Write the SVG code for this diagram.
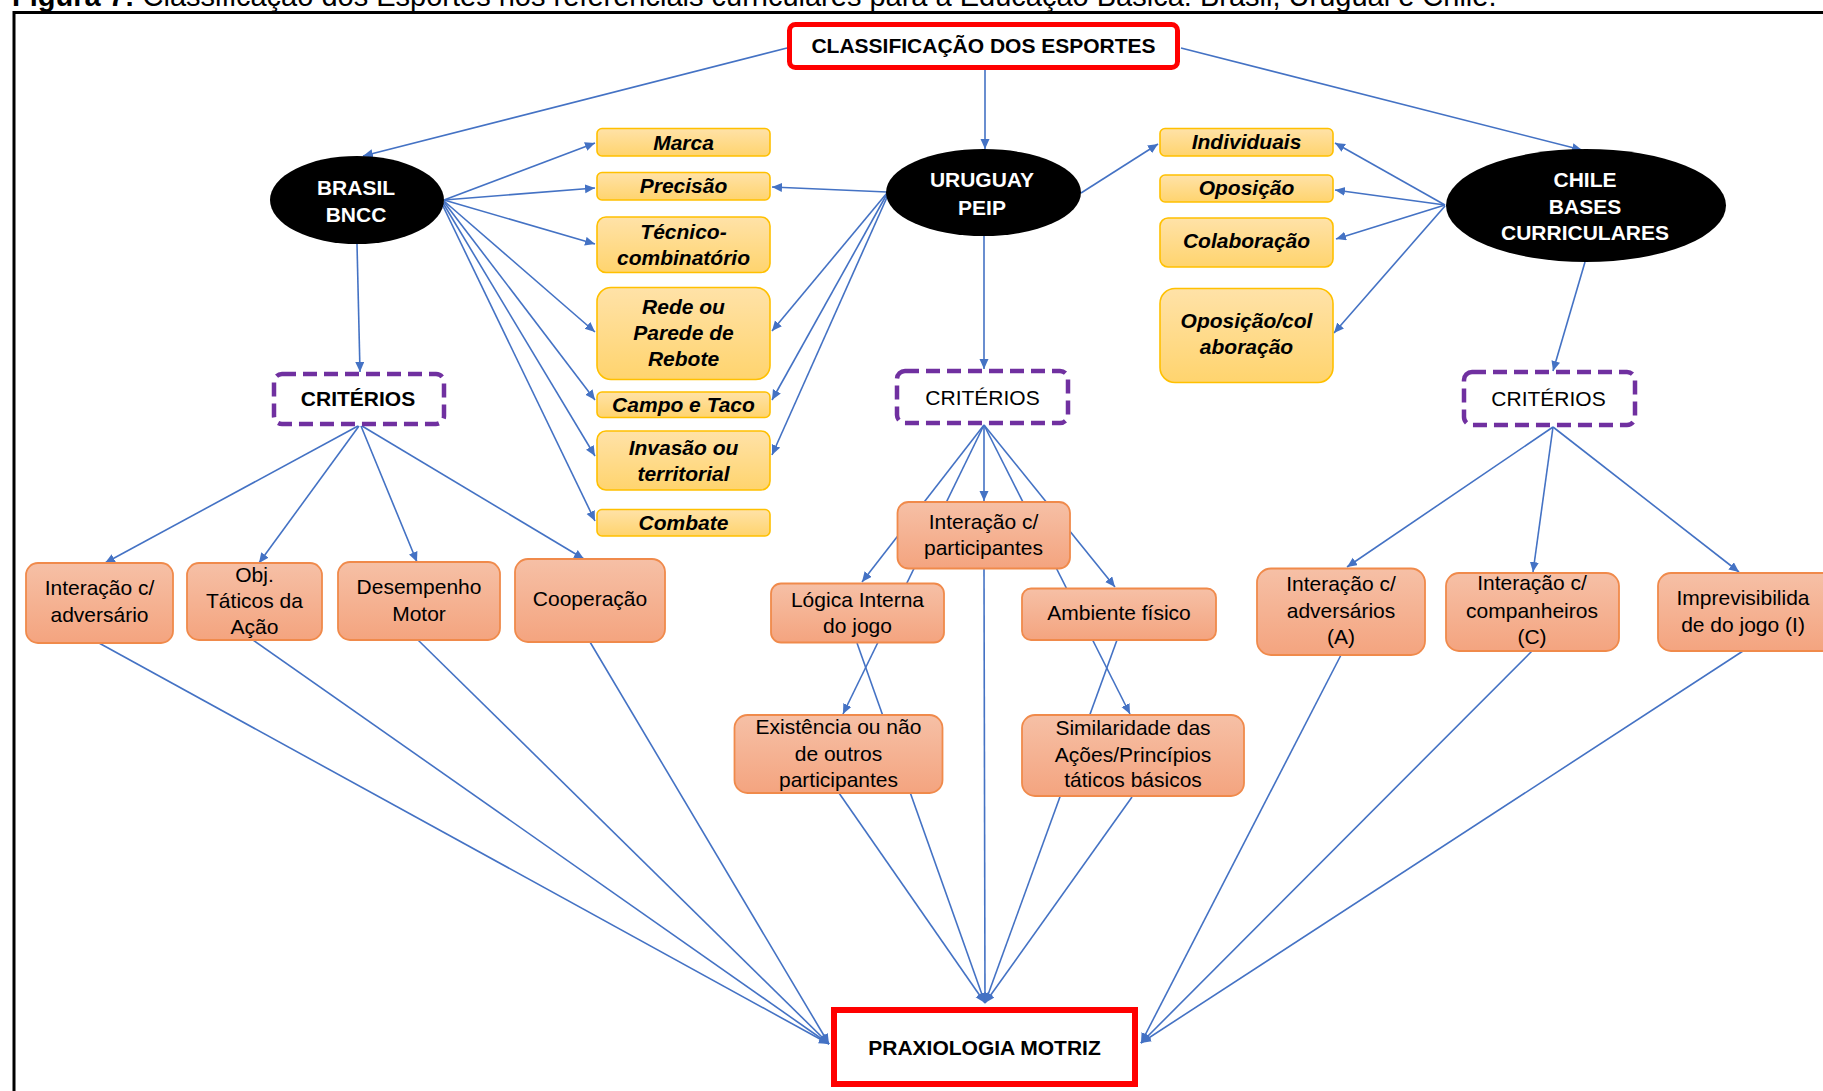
<svg xmlns="http://www.w3.org/2000/svg" width="1823" height="1091" viewBox="0 0 1823 1091">
<defs>
<style>
.t{font-family:"Liberation Sans",Arial,sans-serif;font-size:21px;text-anchor:middle;fill:#000}
.b{font-weight:bold}
.bi{font-weight:bold;font-style:italic}
.w{fill:#fff}
.c line{stroke:#4472C4;stroke-width:1.6;marker-end:url(#ah)}
.y{fill:url(#gy);stroke:#FFC000;stroke-width:1.6}
.o{fill:url(#go);stroke:#F08A4B;stroke-width:1.8}
.k{fill:#fff;stroke:#7030A0;stroke-width:4.5;stroke-dasharray:14 7}
.r{fill:#fff;stroke:#FF0000}
</style>
<linearGradient id="gy" x1="0" y1="0" x2="0" y2="1"><stop offset="0" stop-color="#FFE2A8"/><stop offset="1" stop-color="#FFD46E"/></linearGradient>
<linearGradient id="go" x1="0" y1="0" x2="0" y2="1"><stop offset="0" stop-color="#F6C0A6"/><stop offset="1" stop-color="#F4A47F"/></linearGradient>
<marker id="ah" markerUnits="userSpaceOnUse" markerWidth="11" markerHeight="10" refX="10" refY="4.5" orient="auto"><path d="M0,0 L10,4.5 L0,9 z" fill="#4472C4"/></marker>
</defs>
<rect width="1823" height="1091" fill="#fff"/>
<text x="12" y="6" style="font-family:'Liberation Sans',Arial,sans-serif;font-size:29px"><tspan font-weight="bold">Figura 7:</tspan> Classificação dos Esportes nos referenciais curriculares para a Educação Básica: Brasil, Uruguai e Chile.</text>
<line x1="14" y1="12.5" x2="1823" y2="12.5" stroke="#000" stroke-width="3"/>
<line x1="14" y1="11" x2="14" y2="1091" stroke="#000" stroke-width="3"/>

<g id="connectors" class="c">
<line x1="787" y1="48" x2="363" y2="156"/>
<line x1="985" y1="70" x2="985" y2="149"/>
<line x1="1181" y1="48" x2="1582" y2="150"/>
<line x1="444" y1="200" x2="595" y2="143"/>
<line x1="444" y1="200" x2="595" y2="188"/>
<line x1="444" y1="200" x2="595" y2="244"/>
<line x1="444" y1="201" x2="595" y2="332"/>
<line x1="444" y1="202" x2="595" y2="400"/>
<line x1="443" y1="203" x2="595" y2="456"/>
<line x1="442" y1="204" x2="595" y2="521"/>
<line x1="887" y1="192" x2="772" y2="187"/>
<line x1="887" y1="193" x2="772" y2="331"/>
<line x1="887" y1="194" x2="772" y2="400"/>
<line x1="888" y1="195" x2="772" y2="455"/>
<line x1="1081" y1="193" x2="1158" y2="144"/>
<line x1="1445" y1="205" x2="1335" y2="143"/>
<line x1="1445" y1="205" x2="1335" y2="190"/>
<line x1="1445" y1="205" x2="1336" y2="239"/>
<line x1="1445" y1="206" x2="1334" y2="333"/>
<line x1="357" y1="244" x2="360" y2="372"/>
<line x1="984" y1="236" x2="984" y2="369"/>
<line x1="1585" y1="262" x2="1553" y2="371"/>
<line x1="358" y1="426" x2="105" y2="563"/>
<line x1="359" y1="426" x2="259" y2="563"/>
<line x1="361" y1="426" x2="417" y2="562"/>
<line x1="362" y1="426" x2="584" y2="559"/>
<line x1="984" y1="425" x2="984" y2="501"/>
<line x1="984" y1="425" x2="862" y2="582"/>
<line x1="984" y1="425" x2="843" y2="714"/>
<line x1="984" y1="425" x2="1115" y2="587"/>
<line x1="984" y1="425" x2="1130" y2="714"/>
<line x1="1553" y1="427" x2="1347" y2="567"/>
<line x1="1553" y1="427" x2="1533" y2="572"/>
<line x1="1553" y1="427" x2="1739" y2="572"/>
<line x1="99" y1="643" x2="829" y2="1044"/>
<line x1="253" y1="640" x2="829" y2="1044"/>
<line x1="418" y1="640" x2="829" y2="1044"/>
<line x1="590" y1="642" x2="829" y2="1044"/>
<line x1="984" y1="568" x2="985" y2="1003"/>
<line x1="857" y1="643" x2="985" y2="1003"/>
<line x1="839" y1="793" x2="985" y2="1003"/>
<line x1="1117" y1="640" x2="985" y2="1003"/>
<line x1="1132" y1="797" x2="985" y2="1003"/>
<line x1="1341" y1="655" x2="1141" y2="1043"/>
<line x1="1532" y1="651" x2="1141" y2="1043"/>
<line x1="1743" y1="651" x2="1141" y2="1043"/>
</g>

<g id="n-classificacao"><rect x="789.5" y="24.5" width="388" height="43" rx="6" class="r" stroke-width="5"/><text x="983.5" y="53" class="t b">CLASSIFICAÇÃO DOS ESPORTES</text></g>

<g id="n-brasil"><ellipse cx="357" cy="200" rx="87" ry="44" fill="#000"/><text class="t b w"><tspan x="356" y="195">BRASIL</tspan><tspan x="356" y="222">BNCC</tspan></text></g>
<g id="n-uruguay"><ellipse cx="983.5" cy="192.5" rx="97.5" ry="43.5" fill="#000"/><text class="t b w"><tspan x="982" y="187">URUGUAY</tspan><tspan x="982" y="215">PEIP</tspan></text></g>
<g id="n-chile"><ellipse cx="1586" cy="205.5" rx="140" ry="56.5" fill="#000"/><text class="t b w"><tspan x="1585" y="187">CHILE</tspan><tspan x="1585" y="214">BASES</tspan><tspan x="1585" y="240">CURRICULARES</tspan></text></g>

<g id="n-marca"><rect x="597" y="128.5" width="173" height="27.5" rx="5" class="y"/><text x="683.5" y="149.5" class="t bi">Marca</text></g>
<g id="n-precisao"><rect x="597" y="172.5" width="173" height="27.5" rx="5" class="y"/><text x="683.5" y="193" class="t bi">Precisão</text></g>
<g id="n-tecnico"><rect x="597" y="217" width="173" height="55.5" rx="9" class="y"/><text class="t bi"><tspan x="683.5" y="238.5">Técnico-</tspan><tspan x="683.5" y="264.5">combinatório</tspan></text></g>
<g id="n-rede"><rect x="597" y="287.5" width="173" height="92" rx="14" class="y"/><text class="t bi"><tspan x="683.5" y="313.5">Rede ou</tspan><tspan x="683.5" y="340">Parede de</tspan><tspan x="683.5" y="366">Rebote</tspan></text></g>
<g id="n-campo"><rect x="597" y="392" width="173" height="25.5" rx="5" class="y"/><text x="683.5" y="412" class="t bi">Campo e Taco</text></g>
<g id="n-invasao"><rect x="597" y="431" width="173" height="59" rx="9" class="y"/><text class="t bi"><tspan x="683.5" y="454.5">Invasão ou</tspan><tspan x="683.5" y="481">territorial</tspan></text></g>
<g id="n-combate"><rect x="597" y="509.5" width="173" height="26.5" rx="5" class="y"/><text x="683.5" y="530" class="t bi">Combate</text></g>

<g id="n-individuais"><rect x="1160" y="128.5" width="173" height="27.5" rx="5" class="y"/><text x="1246.5" y="148.5" class="t bi">Individuais</text></g>
<g id="n-oposicao"><rect x="1160" y="175" width="173" height="27" rx="5" class="y"/><text x="1246.5" y="194.5" class="t bi">Oposição</text></g>
<g id="n-colaboracao"><rect x="1160" y="218" width="173" height="49" rx="8" class="y"/><text x="1246.5" y="248" class="t bi">Colaboração</text></g>
<g id="n-opcol"><rect x="1160" y="288.5" width="173" height="94" rx="15" class="y"/><text class="t bi"><tspan x="1246.5" y="327.5">Oposição/col</tspan><tspan x="1246.5" y="353.5">aboração</tspan></text></g>

<g id="n-crit-br"><rect x="274" y="374" width="170" height="50" rx="8" class="k"/><text x="358" y="406" class="t b">CRITÉRIOS</text></g>
<g id="n-crit-uy"><rect x="897" y="371" width="171" height="52" rx="8" class="k"/><text x="982.5" y="405" class="t">CRITÉRIOS</text></g>
<g id="n-crit-cl"><rect x="1464" y="372" width="171" height="53" rx="8" class="k"/><text x="1548.5" y="406" class="t">CRITÉRIOS</text></g>

<g id="n-br-interacao"><rect x="26" y="563" width="147" height="80" rx="12" class="o"/><text class="t"><tspan x="99.5" y="595">Interação c/</tspan><tspan x="99.5" y="622">adversário</tspan></text></g>
<g id="n-br-obj"><rect x="187" y="563" width="135" height="77" rx="12" class="o"/><text class="t"><tspan x="254.5" y="582">Obj.</tspan><tspan x="254.5" y="608">Táticos da</tspan><tspan x="254.5" y="634">Ação</tspan></text></g>
<g id="n-br-desempenho"><rect x="338" y="562" width="162" height="78" rx="12" class="o"/><text class="t"><tspan x="419" y="594">Desempenho</tspan><tspan x="419" y="621">Motor</tspan></text></g>
<g id="n-br-cooperacao"><rect x="515" y="559" width="150" height="83" rx="13" class="o"/><text x="590" y="606" class="t">Cooperação</text></g>

<g id="n-uy-interacao"><rect x="897.5" y="502" width="172.5" height="66.5" rx="11" class="o"/><text class="t"><tspan x="983.5" y="529">Interação c/</tspan><tspan x="983.5" y="555">participantes</tspan></text></g>
<g id="n-uy-logica"><rect x="771" y="583.5" width="173" height="59" rx="10" class="o"/><text class="t"><tspan x="857.5" y="607">Lógica Interna</tspan><tspan x="857.5" y="633">do jogo</tspan></text></g>
<g id="n-uy-ambiente"><rect x="1022" y="588.5" width="194" height="51.5" rx="9" class="o"/><text x="1119" y="620" class="t">Ambiente físico</text></g>
<g id="n-uy-existencia"><rect x="734.5" y="715" width="208" height="78" rx="13" class="o"/><text class="t"><tspan x="838.5" y="734">Existência ou não</tspan><tspan x="838.5" y="760.5">de outros</tspan><tspan x="838.5" y="786.5">participantes</tspan></text></g>
<g id="n-uy-similaridade"><rect x="1022" y="715" width="222" height="81" rx="13" class="o"/><text class="t"><tspan x="1133" y="735">Similaridade das</tspan><tspan x="1133" y="761.5">Ações/Princípios</tspan><tspan x="1133" y="787">táticos básicos</tspan></text></g>

<g id="n-cl-adversarios"><rect x="1257" y="568.5" width="168" height="86.5" rx="14" class="o"/><text class="t"><tspan x="1341" y="591">Interação c/</tspan><tspan x="1341" y="617.5">adversários</tspan><tspan x="1341" y="644">(A)</tspan></text></g>
<g id="n-cl-companheiros"><rect x="1446" y="573" width="173" height="78" rx="13" class="o"/><text class="t"><tspan x="1532" y="590">Interação c/</tspan><tspan x="1532" y="617.5">companheiros</tspan><tspan x="1532" y="644">(C)</tspan></text></g>
<g id="n-cl-imprev"><rect x="1658" y="573" width="180" height="78" rx="13" class="o"/><text class="t"><tspan x="1743" y="605">Imprevisibilida</tspan><tspan x="1743" y="632">de do jogo (I)</tspan></text></g>

<g id="n-praxiologia"><rect x="834" y="1010" width="301" height="74" class="r" stroke-width="6"/><text x="984.5" y="1055" class="t b">PRAXIOLOGIA MOTRIZ</text></g>
</svg>
